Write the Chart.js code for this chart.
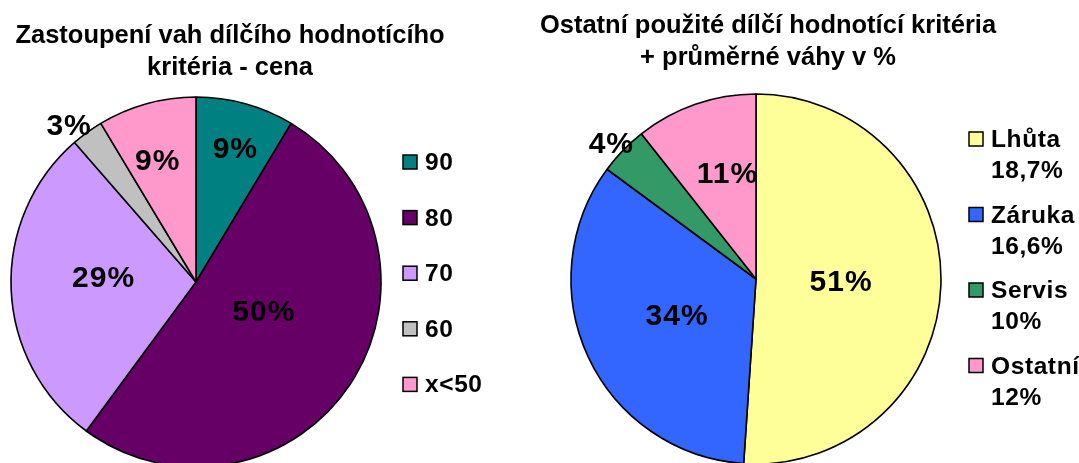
<!DOCTYPE html>
<html>
<head>
<meta charset="utf-8">
<script src="https://cdn.jsdelivr.net/npm/chart.js@4"></script>
<style>
  html, body { margin: 0; padding: 0; background: #fff; overflow: hidden; width: 1079px; height: 463px; }
  canvas { position: absolute; top: 0; }
  #cena { left: 0; }
  #ostatni { left: 540px; }
</style>
</head>
<body>
<canvas id="cena" width="540" height="480"></canvas>
<canvas id="ostatni" width="539" height="480"></canvas>
<script>
// levy graf - vahy kriteria cena (podil v %, odecteno z vysecí)
const cenaLabels = ["90", "80", "70", "60", "x<50"];
const cenaShares = [8.6, 51.5, 28.5, 2.8, 8.6];
// popisky tak, jak jsou v grafu
const cenaPercentLabels = ["9%", "50%", "29%", "3%", "9%"];
const cenaColors = ["#008080", "#660066", "#CC99FF", "#C0C0C0", "#FF99CC"];

// pravy graf - ostatni kriteria (pocty)
const ostatniLabels = ["Lhůta", "Záruka", "Servis", "Ostatní"];
const ostatniCounts = [24, 16, 2, 5];
const ostatniPercentLabels = ["51%", "34%", "4%", "11%"];
const ostatniWeights = [18.7, 16.6, 10, 12];
const ostatniColors = ["#FFFF99", "#3366FF", "#339966", "#FF99CC"];

const FONT = '"Liberation Sans", Arial, sans-serif';

// umisteni popisku: [nasobek polomeru, posun uhlu ve stupnich]
const cenaLabelPos = [[0.75, 1], [0.4, -10], [0.5, 5], [1.09, -3], [0.69, -2]];
const ostatniLabelPos = [[0.46, 0], [0.47, 0], [1.07, -1], [0.59, 4]];

function sliceLabels(texts, pos) {
	return {
		id: "sliceLabels",
		afterDatasetsDraw: (chart) => {
			const { ctx } = chart;
			ctx.save();
			ctx.font = "bold 30px " + FONT;
			ctx.letterSpacing = "1px";
			ctx.fillStyle = "#000";
			ctx.textAlign = "center";
			ctx.textBaseline = "middle";
			chart.getDatasetMeta(0).data.forEach((arc, i) => {
				const p = arc.getProps(["x", "y", "startAngle", "endAngle", "outerRadius"], true);
				const mid = (p.startAngle + p.endAngle) / 2 + pos[i][1] * Math.PI / 180;
				const r = p.outerRadius * pos[i][0];
				ctx.fillText(texts[i], p.x + Math.cos(mid) * r, p.y + Math.sin(mid) * r + 1);
			});
			ctx.restore();
		}
	};
}

function titleText(lines, cx, baselines) {
	return {
		id: "titleText",
		afterDraw: (chart) => {
			const { ctx } = chart;
			ctx.save();
			ctx.font = "bold 25.5px " + FONT;
			ctx.fillStyle = "#000";
			ctx.textAlign = "center";
			ctx.textBaseline = "alphabetic";
			lines.forEach((l, i) => ctx.fillText(l, cx, baselines[i]));
			ctx.restore();
		}
	};
}

function legendBoxes(x, y0, step, lineGap, secondLines) {
	return {
		id: "legendBoxes",
		afterDraw: (chart) => {
			const { ctx } = chart;
			const ds = chart.data.datasets[0];
			ctx.save();
			ctx.font = "bold 24.5px " + FONT;
			ctx.letterSpacing = "0.6px";
			ctx.textAlign = "left";
			ctx.textBaseline = "alphabetic";
			chart.data.labels.forEach((lab, i) => {
				const base = y0 + i * step;
				ctx.fillStyle = ds.backgroundColor[i];
				ctx.fillRect(x, base - 15, 14, 14);
				ctx.strokeStyle = "#000";
				ctx.lineWidth = 1.5;
				ctx.strokeRect(x, base - 15, 14, 14);
				ctx.fillStyle = "#000";
				ctx.fillText(lab, x + 22, base);
				if (secondLines) {
					ctx.fillText(secondLines[i], x + 22, base + lineGap);
				}
			});
			ctx.restore();
		}
	};
}

function pie(id, labels, values, colors, padding, plugins) {
	return new Chart(document.getElementById(id), {
		type: "pie",
		data: {
			labels: labels,
			datasets: [{
				data: values,
				backgroundColor: colors,
				borderColor: "#000",
				borderWidth: 1.6,
				radius: 185
			}]
		},
		options: {
			responsive: false,
			animation: false,
			layout: { padding: padding },
			plugins: {
				legend: { display: false },
				title: { display: false },
				tooltip: { enabled: false }
			}
		},
		plugins: plugins
	});
}

pie("cena", cenaLabels, cenaShares, cenaColors,
	{ left: 10, right: 158, top: 96, bottom: 12 },
	[
		sliceLabels(cenaPercentLabels, cenaLabelPos),
		titleText(["Zastoupení vah dílčího hodnotícího", "kritéria - cena"], 230, [43, 75]),
		legendBoxes(403, 170, 55.6, 0, null)
	]);

pie("ostatni", ostatniLabels, ostatniCounts, ostatniColors,
	{ left: 30, right: 137, top: 93, bottom: 15 },
	[
		sliceLabels(ostatniPercentLabels, ostatniLabelPos),
		titleText(["Ostatní použité dílčí hodnotící kritéria", "+ průměrné váhy v %"], 228, [33, 65]),
		legendBoxes(429, 147, 75.5, 31, ostatniWeights.map(w => String(w).replace(".", ",") + "%"))
	]);
</script>
</body>
</html>
